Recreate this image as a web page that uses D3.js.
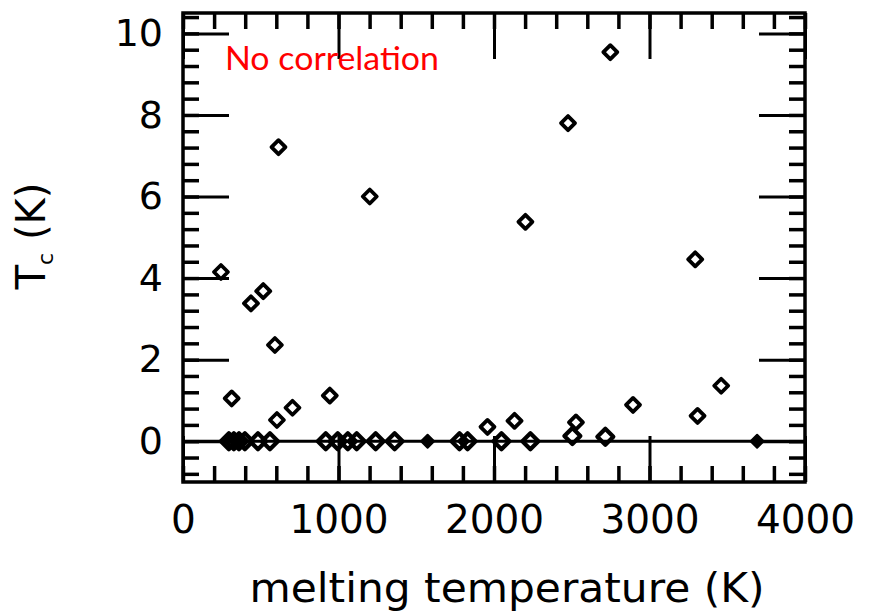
<!DOCTYPE html>
<html><head><meta charset="utf-8">
<script src="https://cdn.jsdelivr.net/npm/d3@7"></script>
<style>body{margin:0;background:#fff;overflow:hidden}</style>
</head><body>
<svg id="c" width="871" height="612"></svg>
<script>
// Superconducting elements with Tc > 0 (melting temperature K, Tc K)
const scTm = [244, 313, 437, 516, 591, 614, 604, 704, 944, 1201, 1958, 2132, 2202, 2476, 2527, 2748, 2894, 3294, 3309, 3461];
const scTc = [4.15, 1.05, 3.38, 3.68, 2.36, 7.21, 0.52, 0.82, 1.12, 6.0, 0.35, 0.50, 5.38, 7.8, 0.46, 9.54, 0.89, 4.46, 0.62, 1.36];
// Elements along the Tc ~ 0 line
const zeroTm = [295, 327, 360, 398, 482, 559, 918, 995, 1060, 1117, 1239, 1361, 1778, 1830, 2048, 2234, 2504, 2716];
const zeroTc = [0, 0, 0, 0, 0, 0, 0, 0, 0, 0, 0, 0, 0, 0, 0, 0, 0.13, 0.11];
// Small filled markers
const filledTm = [1573, 3692];
const filledTc = [0, 0];
const xTickLabels = [0, 1000, 2000, 3000, 4000];
const yTickLabels = [0, 2, 4, 6, 8, 10];
const xLabel = "melting temperature (K)";
const annotation = "No correlation";

const svg = d3.select("#c");
const x = d3.scaleLinear().domain([0, 4000]).range([183, 805]);
const y = d3.scaleLinear().domain([-1, 10.5]).range([482, 13]);

const xMinor = d3.range(0, 4001, 200);
const yMinor = d3.range(-0.8, 10.41, 0.4).map(v => +v.toFixed(2));
const MAJ = 46, MIN = 16;

function styleAxis(g, w) {
  g.select(".domain").remove();
  g.selectAll(".tick line").attr("stroke", "#000").attr("stroke-width", w);
}
// minor ticks
svg.append("g").attr("transform", `translate(${x(0)},0)`)
  .call(d3.axisLeft(y).tickValues(yMinor).tickSize(-MIN).tickFormat(""))
  .call(g => styleAxis(g, 3.5));
svg.append("g").attr("transform", `translate(${x(4000)},0)`)
  .call(d3.axisRight(y).tickValues(yMinor).tickSize(-MIN).tickFormat(""))
  .call(g => styleAxis(g, 3.5));
svg.append("g").attr("transform", `translate(0,${y(10.5)})`)
  .call(d3.axisTop(x).tickValues(xMinor).tickSize(-MIN).tickFormat(""))
  .call(g => styleAxis(g, 3.5));
svg.append("g").attr("transform", `translate(0,${y(-1)})`)
  .call(d3.axisBottom(x).tickValues(xMinor).tickSize(-MIN).tickFormat(""))
  .call(g => styleAxis(g, 3.5));
// major ticks
svg.append("g").attr("transform", `translate(${x(0)},0)`)
  .call(d3.axisLeft(y).tickValues(yTickLabels).tickSize(-MAJ).tickFormat(""))
  .call(g => styleAxis(g, 3));
svg.append("g").attr("transform", `translate(${x(4000)},0)`)
  .call(d3.axisRight(y).tickValues(yTickLabels).tickSize(-MAJ).tickFormat(""))
  .call(g => styleAxis(g, 3));
svg.append("g").attr("transform", `translate(0,${y(10.5)})`)
  .call(d3.axisTop(x).tickValues(xTickLabels).tickSize(-MAJ).tickFormat(""))
  .call(g => styleAxis(g, 3));
svg.append("g").attr("transform", `translate(0,${y(-1)})`)
  .call(d3.axisBottom(x).tickValues(xTickLabels).tickSize(-MAJ).tickFormat(""))
  .call(g => styleAxis(g, 3));

// tick labels
const yl = svg.append("g").attr("transform", `translate(${x(0)},0)`)
  .call(d3.axisLeft(y).tickValues(yTickLabels).tickSize(0).tickPadding(20).tickFormat(d3.format("d")));
yl.select(".domain").remove();
yl.selectAll("text").attr("font-family", "DejaVu Sans").attr("font-size", 38).attr("fill", "#000");
const xl = svg.append("g").attr("transform", `translate(0,${y(-1)})`)
  .call(d3.axisBottom(x).tickValues(xTickLabels).tickSize(0).tickPadding(23).tickFormat(d3.format("d")));
xl.select(".domain").remove();
xl.selectAll("text").attr("font-family", "DejaVu Sans").attr("font-size", 39).attr("fill", "#000");

// frame
svg.append("rect")
  .attr("x", x(0)).attr("y", y(10.5))
  .attr("width", x(4000) - x(0)).attr("height", y(-1) - y(10.5))
  .attr("fill", "none").attr("stroke", "#000").attr("stroke-width", 3.5);

// zero line
svg.append("line")
  .attr("x1", x(0)).attr("x2", x(4000)).attr("y1", y(0)).attr("y2", y(0))
  .attr("stroke", "#000").attr("stroke-width", 3);

const diamond = r => `M0,${-r}L${r},0L0,${r}L${-r},0Z`;
function drawPts(tm, tc, r, fill, sw) {
  svg.append("g").selectAll("path").data(tm.map((v, i) => [v, tc[i]])).join("path")
    .attr("d", diamond(r))
    .attr("transform", d => `translate(${x(d[0])},${y(d[1])})`)
    .attr("fill", fill).attr("stroke", "#000").attr("stroke-width", sw)
    .attr("stroke-linejoin", "round");
}
drawPts(zeroTm, zeroTc, 8, "none", 4.2);
drawPts(scTm, scTc, 7, "#fff", 3.8);
drawPts(filledTm, filledTc, 6.5, "#000", 2);

// axis titles
svg.append("text")
  .attr("x", 507).attr("y", 602).attr("text-anchor", "middle")
  .attr("font-family", "DejaVu Sans").attr("font-size", 40)
  .attr("textLength", 515).attr("lengthAdjust", "spacingAndGlyphs")
  .text(xLabel);
const yt = svg.append("text")
  .attr("transform", "translate(45,236) rotate(-90)")
  .attr("text-anchor", "middle")
  .attr("font-family", "DejaVu Sans").attr("font-size", 40);
yt.append("tspan").text("T");
yt.append("tspan").attr("font-size", 22).attr("dy", 8).text("c");
yt.append("tspan").attr("dy", -8).text(" (K)");

// annotation
svg.append("text")
  .attr("x", 225).attr("y", 70)
  .attr("font-family", "Lato, Open Sans, sans-serif").attr("font-size", 32)
  .attr("fill", "#ff0000")
  .attr("textLength", 214).attr("lengthAdjust", "spacingAndGlyphs")
  .text(annotation);
</script>
</body></html>
